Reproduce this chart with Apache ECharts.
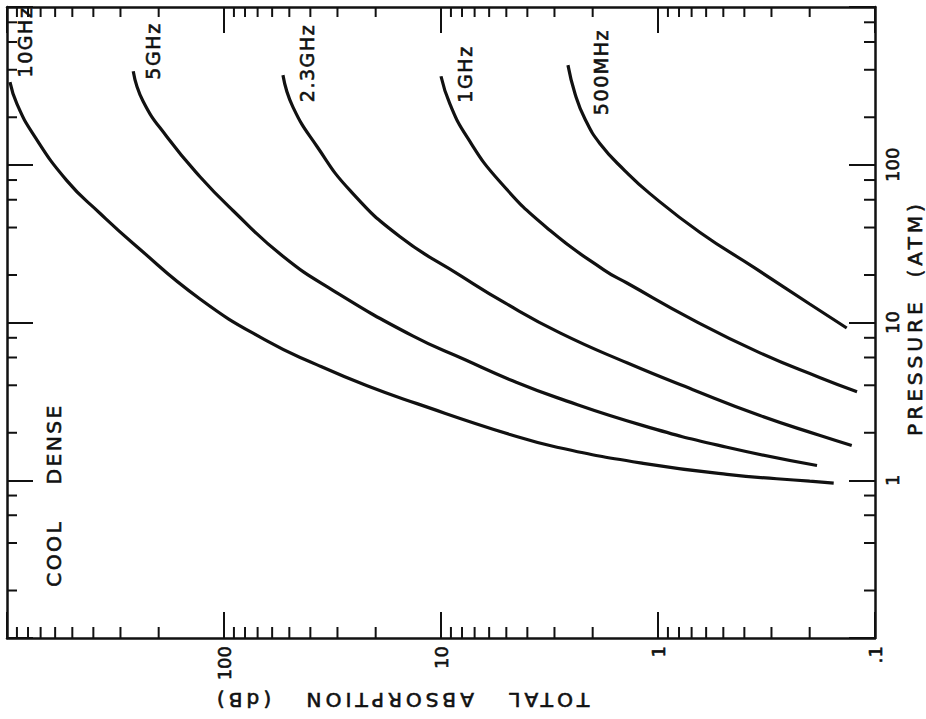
<!DOCTYPE html>
<html><head><meta charset="utf-8">
<script src="https://cdn.jsdelivr.net/npm/echarts@6/dist/echarts.min.js"></script>
<style>
html,body{margin:0;padding:0;background:#fff}
#c{width:926px;height:719px}
#c text[style*="20.2px"]{letter-spacing:4px}
#c text[style*="20.1px"]{letter-spacing:4px}
#c text[style*="20.3px"]{letter-spacing:2.4px}
#c text[style*="19.1px"]{letter-spacing:1.5px}
</style>
</head><body><div id="c"></div>
<script>
// Curve names
const curveNames = ['10GHz', '5GHz', '2.3GHz', '1GHz', '500MHz'];
// Total absorption (dB) and pressure (atm) along each curve
const abs10GHz  = [969, 900, 759, 530, 372, 262, 129, 63.4, 37.2, 21.9, 12.9, 4.81, 2.92, 1.17, 0.481, 0.200, 0.155];
const pres10GHz = [334, 243, 157, 79.3, 49.1, 31.7, 14.1, 7.64, 5.39, 3.97, 3.06, 1.95, 1.62, 1.28, 1.09, 0.986, 0.96];
const abs5GHz   = [262, 236, 183, 129, 91, 53.5, 31.5, 13.5, 7.74, 4.81, 2.92, 1.17, 0.481, 0.185];
const pres5GHz  = [392, 253, 150, 84, 51.3, 26.3, 16.0, 8.22, 5.80, 4.34, 3.34, 2.22, 1.62, 1.24];
const abs2_3GHz  = [53.5, 48.1, 37.2, 26.2, 15.5, 8.17, 5.07, 2.83, 1.39, 0.69, 0.339, 0.179, 0.128];
const pres2_3GHz = [370, 232, 130, 68.5, 35.1, 19.9, 13.3, 8.59, 5.55, 3.75, 2.57, 1.92, 1.66];
const abs1GHz   = [10, 9.1, 7.59, 5.35, 3.15, 1.77, 1.39, 0.69, 0.339, 0.179, 0.121];
const pres1GHz  = [364, 243, 150, 78, 38.4, 21.5, 17.8, 10.4, 6.42, 4.47, 3.64];
const abs500MHz  = [2.60, 2.41, 2.17, 1.85, 1.42, 1.09, 0.64, 0.357, 0.200, 0.135];
const pres500MHz = [428, 281, 195, 136, 91.6, 65.6, 37.2, 22.1, 13.1, 9.23];
// Axis ranges and ticks
const absRange = [0.1, 1000];
const presRange = [0.1, 1000];
const absMinorTicks = [];
[0.1, 1, 10, 100].forEach(d => { for (let k = 2; k <= 9; k++) absMinorTicks.push(+(d * k).toPrecision(3)); });
const presMinorTicks = [];
[0.1, 1, 10, 100].forEach(d => { [2, 4, 6, 8].forEach(k => presMinorTicks.push(+(d * k).toPrecision(3))); });

const absSeries = [abs10GHz, abs5GHz, abs2_3GHz, abs1GHz, abs500MHz];
const presSeries = [pres10GHz, pres5GHz, pres2_3GHz, pres1GHz, pres500MHz];

const INK = '#111';
const FONT = 'DejaVu Sans';
const chart = echarts.init(document.getElementById('c'), null, { renderer: 'svg' });

function fmtAbs(v) {
  if (Math.abs(v - 0.1) < 1e-9) return '.1';
  if (v > 500) return '';
  return String(Math.round(v));
}
function fmtPres(v) {
  if (v < 0.5 || v > 500) return '';
  return String(Math.round(v));
}

const lineSeries = curveNames.map((name, i) => ({
  name, type: 'line', xAxisIndex: 0, yAxisIndex: 0,
  data: absSeries[i].map((a, j) => [a, presSeries[i][j]]),
  smooth: 0.5, showSymbol: false, symbol: 'none', silent: true,
  lineStyle: { color: INK, width: 3.2 }
}));

const minorX = {
  type: 'custom', xAxisIndex: 0, yAxisIndex: 0, silent: true, clip: false,
  data: absMinorTicks.map(v => [v, 1]),
  renderItem: (params, api) => {
    const v = api.value(0);
    const b = api.coord([v, presRange[0]]);
    const t = api.coord([v, presRange[1]]);
    const st = { stroke: INK, lineWidth: 2 };
    return { type: 'group', children: [
      { type: 'line', shape: { x1: b[0], y1: b[1], x2: b[0], y2: b[1] - 11 }, style: st },
      { type: 'line', shape: { x1: t[0], y1: t[1], x2: t[0], y2: t[1] + 10 }, style: st }
    ]};
  }
};
const minorY = {
  type: 'custom', xAxisIndex: 0, yAxisIndex: 0, silent: true, clip: false,
  data: presMinorTicks.map(v => [1, v]),
  renderItem: (params, api) => {
    const v = api.value(1);
    const l = api.coord([absRange[1], v]);
    const r = api.coord([absRange[0], v]);
    const st = { stroke: INK, lineWidth: 2 };
    return { type: 'group', children: [
      { type: 'line', shape: { x1: l[0], y1: l[1], x2: l[0] + 10, y2: l[1] }, style: st },
      { type: 'line', shape: { x1: r[0], y1: r[1], x2: r[0] - 11, y2: r[1] }, style: st }
    ]};
  }
};

const axisCommon = {
  type: 'log', logBase: 10, splitLine: { show: false },
  axisLine: { show: true, lineStyle: { color: INK, width: 2.5 } },
  axisTick: { show: true, inside: true, length: 26, lineStyle: { color: INK, width: 2 } },
  minorTick: { show: false }
};

const tickLabel = {
  show: true, rotate: 90, margin: 8, color: INK, fontSize: 18, fontFamily: FONT,
  textBorderColor: INK, textBorderWidth: 0.6
};

const rotText = (t, x, y, size, rot) => ({
  type: 'text', x, y, rotation: rot, silent: true,
  style: { text: t, fill: INK, stroke: INK, lineWidth: 0.6, font: `${size}px "${FONT}"`, textAlign: 'center', textVerticalAlign: 'middle' }
});
const Q = Math.PI / 2;

chart.setOption({
  animation: false,
  backgroundColor: '#fff',
  grid: { left: 7, right: 51, top: 7, bottom: 81, containLabel: false },
  xAxis: [
    Object.assign({}, axisCommon, {
      position: 'bottom', inverse: true, min: absRange[0], max: absRange[1],
      axisLabel: Object.assign({}, tickLabel, { formatter: fmtAbs })
    }),
    Object.assign({}, axisCommon, {
      position: 'top', inverse: true, min: absRange[0], max: absRange[1],
      axisLabel: { show: false }
    })
  ],
  yAxis: [
    Object.assign({}, axisCommon, {
      position: 'right', min: presRange[0], max: presRange[1],
      axisLabel: Object.assign({}, tickLabel, { formatter: fmtPres })
    }),
    Object.assign({}, axisCommon, {
      position: 'left', min: presRange[0], max: presRange[1],
      axisLabel: { show: false }
    })
  ],
  series: [...lineSeries, minorX, minorY],
  graphic: [
    rotText(curveNames[0], 25, 42, 19.1, Q),
    rotText(curveNames[1], 153, 51, 19.1, Q),
    rotText(curveNames[2], 307, 63, 19.1, Q),
    rotText(curveNames[3], 465, 74, 19.1, Q),
    rotText(curveNames[4], 601, 72, 19.1, Q),
    rotText('COOL    DENSE', 54, 495, 20.3, Q),
    rotText('PRESSURE  (ATM)', 915, 318, 20.1, Q),
    rotText('TOTAL   ABSORPTION   (dB)', 401, 700, 20.2, Math.PI)
  ]
});
</script>
</body></html>
